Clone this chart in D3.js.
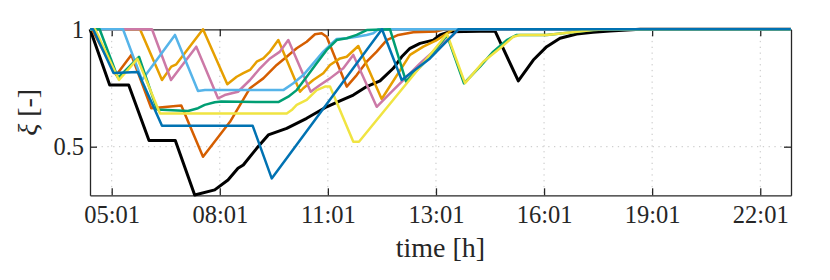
<!DOCTYPE html>
<html>
<head>
<meta charset="utf-8">
<script src="https://cdn.jsdelivr.net/npm/d3@7"></script>
<style>
  body { margin: 0; background: #fff; }
  text { font-family: "Liberation Serif", "Times New Roman", serif; fill: #262626; }
</style>
</head>
<body>
<svg id="chart" width="830" height="280"></svg>
<script>
// x values are hours of the day, y values are xi [-]
const xTickHours = [5.017, 7.85, 10.683, 13.517, 16.35, 19.183, 22.017];
const xTickLabels = ["05:01", "08:01", "11:01", "13:01", "16:01", "19:01", "22:01"];
const yTicks = [0.5, 1];
const yTickLabels = ["0.5", "1"];

const blackSeries = [[4.45,1],[4.964,0.763],[5.462,0.763],[5.995,0.526],[6.684,0.526],[7.192,0.294],[7.717,0.316],[8.065,0.358],[8.327,0.408],[8.466,0.422],[8.818,0.493],[9.122,0.55],[9.604,0.578],[10.128,0.621],[10.653,0.67],[11.001,0.695],[11.35,0.72],[11.701,0.756],[12.05,0.78],[12.398,0.834],[12.618,0.883],[12.836,0.919],[13.098,0.94],[13.447,0.954],[13.622,0.976],[13.884,0.99],[15.064,0.993],[15.675,0.78],[16.068,0.869],[16.419,0.926],[16.768,0.962],[17.205,0.98],[17.633,0.987],[18.078,0.993],[18.87,1],[22.82,1]];
const vermillionSeries = [[4.45,1],[4.5,1],[5.137,0.805],[5.531,0.891],[6.055,0.664],[6.414,0.669],[6.841,0.675],[7.41,0.457],[8.118,0.606],[8.642,0.749],[8.991,0.791],[9.342,0.848],[9.604,0.883],[9.866,0.919],[10.128,0.947],[10.346,0.979],[10.521,0.983],[10.652,0.968],[11.177,0.756],[11.439,0.805],[11.701,0.862],[11.963,0.905],[12.225,0.954],[12.529,0.976],[12.922,0.987],[13.536,0.991],[13.75,1],[22.82,1]];
const orangeSeries = [[4.45,1],[5.759,1],[6.335,0.784],[6.579,0.841],[6.71,0.851],[7.41,1],[8.047,0.766],[8.293,0.798],[8.466,0.813],[8.642,0.827],[8.818,0.862],[8.991,0.876],[9.166,0.905],[9.384,0.954],[9.953,0.734],[10.039,0.749],[10.301,0.784],[10.563,0.813],[10.739,0.848],[11.001,0.876],[11.177,0.883],[11.481,0.929],[12.094,0.703],[12.836,0.891],[13.185,0.926],[13.536,0.954],[13.971,1],[22.82,1]];
const pinkSeries = [[4.45,1],[6.073,1],[6.571,0.784],[7.234,0.926],[7.803,0.706],[7.979,0.72],[8.327,0.734],[8.642,0.784],[8.904,0.834],[9.166,0.876],[9.428,0.905],[9.646,0.954],[10.233,0.734],[10.477,0.763],[10.739,0.791],[11.088,0.834],[11.35,0.891],[11.963,0.67],[12.312,0.727],[12.661,0.784],[13.098,0.855],[13.536,0.919],[13.971,0.976],[14.102,1],[22.82,1]];
const skyBlueSeries = [[4.45,1],[5.313,1],[5.811,0.784],[6.676,0.976],[7.279,0.737],[7.462,0.741],[9.515,0.741],[9.777,0.77],[10.039,0.805],[10.301,0.855],[10.563,0.905],[10.739,0.933],[10.915,0.959],[11.177,0.962],[11.439,0.968],[11.701,0.976],[11.874,0.983],[12.005,1],[22.82,1]];
const greenSeries = [[4.45,1],[4.7,1],[5.182,0.793],[5.732,0.883],[6.204,0.658],[7.017,0.652],[7.279,0.664],[7.455,0.678],[7.717,0.689],[7.89,0.692],[9.384,0.69],[9.646,0.713],[9.866,0.741],[10.128,0.798],[10.39,0.855],[10.653,0.912],[10.915,0.954],[11.177,0.962],[11.439,0.976],[11.701,0.997],[12.312,1],[12.731,0.778],[13.274,0.869],[13.806,0.974],[14.251,0.77],[14.671,0.841],[15.019,0.905],[15.371,0.954],[15.633,0.976],[16.419,0.976],[17.03,0.986],[17.633,0.997],[18.08,1],[22.82,1]];
const yellowSeries = [[4.45,1],[4.58,1],[5.208,0.784],[5.693,0.874],[6.283,0.641],[9.604,0.641],[9.735,0.656],[9.866,0.678],[10.128,0.699],[10.39,0.741],[10.608,0.756],[10.739,0.756],[11.35,0.521],[11.499,0.521],[13.806,0.98],[14.278,0.771],[14.757,0.862],[15.195,0.919],[15.544,0.968],[15.72,0.976],[16.419,0.976],[17.03,0.986],[17.633,0.997],[18.08,1],[22.82,1]];
const blueSeries = [[4.45,1],[4.53,1],[5.064,0.814],[5.706,0.818],[6.335,0.589],[8.713,0.589],[9.211,0.365],[12.102,1],[12.618,0.784],[13.36,0.876],[14.102,1],[22.82,1]];

const series = [
  { values: blackSeries, colour: "#000000", width: 3 },
  { values: vermillionSeries, colour: "#D55E00", width: 2.5 },
  { values: orangeSeries, colour: "#E69F00", width: 2.5 },
  { values: pinkSeries, colour: "#CC79A7", width: 2.5 },
  { values: skyBlueSeries, colour: "#56B4E9", width: 2.5 },
  { values: greenSeries, colour: "#009E73", width: 2.5 },
  { values: yellowSeries, colour: "#F0E442", width: 2.5 },
  { values: blueSeries, colour: "#0072B2", width: 2.5 }
];

const plotLeft = 90, plotRight = 791, plotTop = 29.3, plotBottom = 195.3;

const svg = d3.select("#chart");

const x = d3.scaleLinear().domain([4.448, 22.823]).range([plotLeft, plotRight]);
const y = d3.scaleLinear().domain([0.293, 1]).range([plotBottom, plotTop]);

// dotted grid
const grid = svg.append("g").attr("stroke", "#c4c4c4").attr("stroke-width", 1).attr("stroke-dasharray", "1.3,4.5");
grid.selectAll(".vgrid")
  .data(xTickHours)
  .join("line")
  .attr("x1", (d) => x(d)).attr("x2", (d) => x(d))
  .attr("y1", plotTop).attr("y2", plotBottom);
grid.selectAll(".hgrid")
  .data(yTicks.filter((d) => d < 1))
  .join("line")
  .attr("x1", plotLeft).attr("x2", plotRight)
  .attr("y1", (d) => y(d)).attr("y2", (d) => y(d));

// axes with inward ticks on all four sides
const fontSize = "24.5px";
const xAxis = svg.append("g").attr("transform", `translate(0,${plotBottom})`)
  .call(d3.axisBottom(x).tickValues(xTickHours).tickFormat((d, i) => xTickLabels[i])
    .tickSizeInner(-7).tickSizeOuter(0).tickPadding(10));
const xAxisTop = svg.append("g").attr("transform", `translate(0,${plotTop})`)
  .call(d3.axisTop(x).tickValues(xTickHours).tickFormat("")
    .tickSizeInner(-7).tickSizeOuter(0));
const yAxis = svg.append("g").attr("transform", `translate(${plotLeft},0)`)
  .call(d3.axisLeft(y).tickValues(yTicks).tickFormat((d, i) => yTickLabels[i])
    .tickSizeInner(-7).tickSizeOuter(0).tickPadding(6));
const yAxisRight = svg.append("g").attr("transform", `translate(${plotRight},0)`)
  .call(d3.axisRight(y).tickValues(yTicks).tickFormat("")
    .tickSizeInner(-7).tickSizeOuter(0));

[xAxis, xAxisTop, yAxis, yAxisRight].forEach((g) => {
  g.selectAll("path, line").attr("stroke", "#262626").attr("stroke-width", 1.3);
  g.selectAll("text")
    .attr("fill", "#1a1a1a")
    .style("font-family", '"Liberation Serif", serif')
    .style("font-size", fontSize);
});

// lines
const line = d3.line().x((d) => x(d[0])).y((d) => y(d[1]));
svg.append("g")
  .selectAll("path")
  .data(series)
  .join("path")
  .attr("d", (d) => line(d.values))
  .attr("fill", "none")
  .attr("stroke", (d) => d.colour)
  .attr("stroke-width", (d) => d.width)
  .attr("stroke-linejoin", "round");

// axis labels
svg.append("text")
  .attr("x", (plotLeft + plotRight) / 2)
  .attr("y", 256.7)
  .attr("text-anchor", "middle")
  .attr("fill", "#1a1a1a")
  .style("font-size", "28px")
  .text("time [h]");

const yLabel = svg.append("text")
  .attr("transform", `translate(37,${(plotTop + plotBottom) / 2}) rotate(-90)`)
  .attr("text-anchor", "middle")
  .attr("fill", "#1a1a1a")
  .style("font-size", "28px");
yLabel.append("tspan").style("font-style", "italic").text("ξ");
yLabel.append("tspan").text(" [-]");
</script>
</body>
</html>
